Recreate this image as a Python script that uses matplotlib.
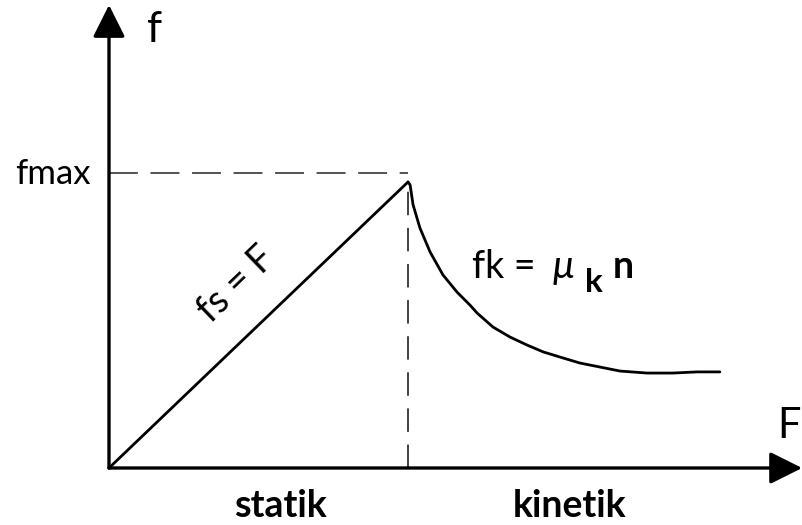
import matplotlib
matplotlib.use("Agg")
import matplotlib.pyplot as plt

plt.rcParams['font.family'] = ['Lato', 'DejaVu Sans']

# gaya statik: naik lurus sampai fmax
F_statik = [0, 10]
f_statik = [0, 10]
f_max = 10.31

# gaya kinetik: turun lalu mendatar
F_kinetik = [10.00, 10.07, 10.17, 10.40, 10.74, 11.17, 11.64, 12.07, 12.31, 12.84, 13.41,
             13.98, 14.52, 15.08, 15.75, 16.42, 17.09, 17.99, 18.86, 19.67, 20.43]
f_kinetik = [10.00, 9.90, 9.20, 8.39, 7.55, 6.75, 6.15, 5.70, 5.42, 4.93, 4.58,
             4.30, 4.06, 3.88, 3.67, 3.53, 3.39, 3.32, 3.32, 3.36, 3.36]

F_ujung = 23.18   # ujung panah sumbu F
f_ujung = 16.19   # ujung panah sumbu f

# skala piksel -> satuan
OX, OY = 109, 468
XS, YS = 29.9, 28.6

fig = plt.figure(figsize=(8.03, 5.25), dpi=100)
ax = fig.add_axes([0, 0, 1, 1])
ax.set_xlim(-OX / XS, (803 - OX) / XS)
ax.set_ylim((OY - 525) / YS, OY / YS)
ax.axis('off')

# sumbu dengan panah
panah = dict(arrowstyle='-|>,head_length=0.9,head_width=0.45', mutation_scale=22,
             lw=2.4, color='black', shrinkA=0, shrinkB=0)
ax.annotate('', xy=(F_ujung, 0), xytext=(0, 0), arrowprops=panah)
ax.annotate('', xy=(0, f_ujung), xytext=(0, 0), arrowprops=panah)

# garis putus-putus fmax
ax.plot([0, F_statik[1]], [f_max, f_max], color='#444444', lw=1.3,
        linestyle=(0, (16, 7)))
ax.plot([F_statik[1], F_statik[1]], [0, f_statik[1]], color='#333333', lw=1.3,
        linestyle=(0, (13, 7)))

ax.plot(F_statik, f_statik, color='black', lw=2.0, solid_capstyle='round')
ax.plot(F_kinetik, f_kinetik, color='black', lw=2.0, solid_capstyle='round',
        solid_joinstyle='round')

# label
ax.text(1.27, 14.9, 'f', fontsize=31, va='baseline', ha='left')
ax.text(-3.14, 9.93, 'fmax', fontsize=25, va='baseline', ha='left')
ax.text(22.34, 1.05, 'F', fontsize=30, va='baseline', ha='left')
ax.text(5.72, -1.71, 'statik', fontsize=27, fontweight='bold', va='baseline', ha='center')
ax.text(15.42, -1.71, 'kinetik', fontsize=27, fontweight='bold', va='baseline', ha='center')

ax.text(4.25, 6.43, 'fs = F', fontsize=27, rotation=43.9, rotation_mode='anchor',
        va='center', ha='center')

ax.text(12.14, 6.64, 'fk =', fontsize=27, va='baseline', ha='left')
ax.text(14.85, 6.64, 'μ', fontsize=28, style='italic', va='baseline', ha='left')
ax.text(15.92, 6.15, 'k', fontsize=24, fontweight='bold', va='baseline', ha='left')
ax.text(16.86, 6.64, 'n', fontsize=27, fontweight='bold', va='baseline', ha='left')

fig.savefig('out.png', dpi=100)
